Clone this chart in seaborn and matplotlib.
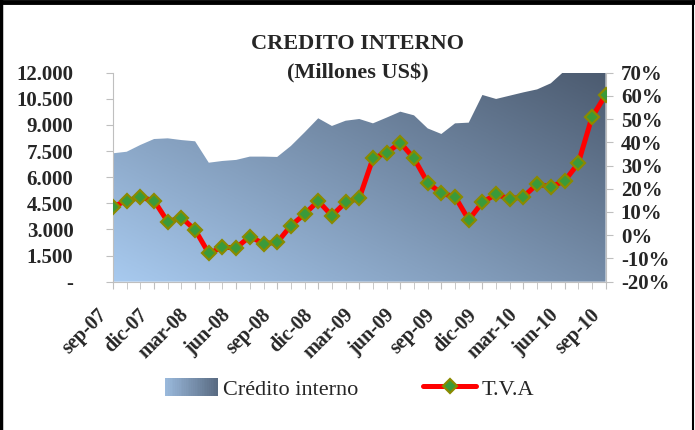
import numpy as np
import pandas as pd
import matplotlib
matplotlib.use("Agg")
import matplotlib.pyplot as plt
import seaborn as sns
from matplotlib.colors import LinearSegmentedColormap
from matplotlib.patches import PathPatch, Rectangle
from matplotlib.lines import Line2D
from matplotlib.legend_handler import HandlerBase
from matplotlib.transforms import ScaledTranslation

# datos (lectura aproximada del grafico)
meses = ["sep-07", "oct-07", "nov-07", "dic-07", "ene-08", "feb-08", "mar-08",
         "abr-08", "may-08", "jun-08", "jul-08", "ago-08", "sep-08", "oct-08",
         "nov-08", "dic-08", "ene-09", "feb-09", "mar-09", "abr-09", "may-09",
         "jun-09", "jul-09", "ago-09", "sep-09", "oct-09", "nov-09", "dic-09",
         "ene-10", "feb-10", "mar-10", "abr-10", "may-10", "jun-10", "jul-10",
         "ago-10", "sep-10"]
credito = [7370, 7460, 7850, 8190, 8230, 8130, 8060, 6830, 6930, 6990,
           7180, 7180, 7160, 7790, 8570, 9380, 8940, 9240, 9340, 9090,
           9420, 9760, 9550, 8800, 8480, 9090, 9130, 10720, 10490, 10680,
           10870, 11040, 11390, 12100, 12500, 12800, 13000]
tva = [12.3, 14.9, 16.3, 14.9, 5.8, 7.6, 2.3, -7.8, -5.2, -5.4,
       -0.6, -3.6, -3.1, 4.1, 9.1, 14.7, 8.4, 14.2, 15.9, 33.1,
       35.5, 39.8, 33.1, 22.6, 18.0, 16.6, 6.6, 14.2, 17.6, 15.6,
       16.6, 22.0, 20.9, 23.3, 30.9, 50.7, 60.4]
tick_meses = meses[::3]

df = pd.DataFrame({"mes": meses, "credito": credito, "tva": tva})
df["i"] = np.arange(len(df))

sns.set_style("white")
plt.rcParams["font.family"] = ["Liberation Serif", "DejaVu Serif"]

fig = plt.figure(figsize=(6.95, 4.30), dpi=100)
ax = fig.add_axes([0.1626, 0.345, 0.7087, 0.486])
ax2 = ax.twinx()

col_claro = "#a8caef"
col_oscuro = "#4c5b70"
cmap = LinearSegmentedColormap.from_list("cred", [col_claro, col_oscuro])

# area con degradado
poly = ax.fill_between(df["i"], df["credito"], color="none", lw=0)
path = poly.get_paths()[0]
clip = PathPatch(path, transform=ax.transData, facecolor="none", edgecolor="none")
ax.add_patch(clip)
xx, yy = np.meshgrid(np.linspace(0, 1, 300), np.linspace(0, 1, 300))
grad = 0.55 * xx + 0.45 * yy
im = ax.imshow(grad, extent=[0, 36, 0, 12000], origin="lower", aspect="auto",
               cmap=cmap, vmin=0, vmax=1, zorder=1)
im.set_clip_path(clip)

ax.set_xlim(0, 36)
ax.set_ylim(0, 12000)
ax.set_yticks(np.arange(0, 12001, 1500))
ax.set_yticklabels(["-" if v == 0 else f"{v:,}".replace(",", ".") for v in range(0, 12001, 1500)])
ax.set_xticks(np.arange(0, 37, 3))
ax.set_xticks(np.arange(0, 37, 1), minor=True)
ax.set_xticklabels(tick_meses, rotation=45, ha="right", va="center",
                   rotation_mode="anchor")

# linea T.V.A
sns.lineplot(data=df, x="i", y="tva", ax=ax2, color="red", lw=3.6, marker="D",
             markersize=7, markerfacecolor="#3a9a3a", markeredgecolor="#8a8a00",
             markeredgewidth=1.6, legend=False, zorder=5)
ax2.set_ylim(-20, 70)
ax2.set_yticks(np.arange(-20, 71, 10))
ax2.set_yticklabels([f"{v}%" for v in range(-20, 71, 10)])
ax2.set_xlim(0, 36)
ax2.set_xlabel("")
ax2.set_ylabel("")
ax.set_xlabel("")
ax.set_ylabel("")

gris = "#bfbfbf"
for a in (ax, ax2):
    for s in a.spines.values():
        s.set_visible(False)
ax.spines["left"].set_visible(True)
ax.spines["left"].set_color(gris)
ax.spines["bottom"].set_visible(True)
ax.spines["bottom"].set_color(gris)
ax2.spines["right"].set_visible(True)
ax2.spines["right"].set_color(gris)

fs = 15
ax.tick_params(axis="y", which="major", direction="out", length=5, color=gris,
               labelsize=fs, pad=23.5, left=True)
ax.tick_params(axis="x", which="both", direction="out", length=5, color=gris,
               labelsize=14.5, pad=17, bottom=True)
ax2.tick_params(axis="y", direction="out", length=5, color=gris, labelsize=fs,
                pad=6, right=True)
desplaza = ScaledTranslation(-9 / 100, 0, fig.dpi_scale_trans)
for lab in ax.get_xticklabels():
    lab.set_transform(lab.get_transform() + desplaza)
for lab in ax.get_yticklabels() + ax.get_xticklabels() + ax2.get_yticklabels():
    lab.set_fontweight("bold")

fig.text(0.515, 0.897, "CREDITO INTERNO", ha="center", va="center",
         fontsize=16, fontweight="bold")
fig.text(0.515, 0.829, "(Millones US$)", ha="center", va="center",
         fontsize=16, fontweight="bold")


class GradHandler(HandlerBase):
    def create_artists(self, legend, orig_handle, xdescent, ydescent, width,
                       height, fontsize, trans):
        n = 30
        arts = []
        for k in range(n):
            r = Rectangle((-xdescent + width * k / n, -ydescent), width / n + 0.3,
                          height, facecolor=cmap(0.15 + 0.7 * k / (n - 1)),
                          edgecolor="none", transform=trans)
            arts.append(r)
        return arts


h_area = Rectangle((0, 0), 1, 1)
h_line = Line2D([], [], color="red", lw=3.6, marker="D", markersize=7,
                markerfacecolor="#3a9a3a", markeredgecolor="#8a8a00",
                markeredgewidth=1.6)
fig.legend([h_area, h_line], ["Crédito interno", "T.V.A"],
           handler_map={Rectangle: GradHandler()},
           loc="center", bbox_to_anchor=(0.503, 0.096), ncol=2, frameon=False,
           fontsize=16, handlelength=2.4, handleheight=0.9, handletextpad=0.25,
           columnspacing=2.9)

# borde del cuadro
fig.add_artist(Line2D([0, 1], [0.995, 0.995], color="black", lw=3.5,
                      transform=fig.transFigure))
fig.add_artist(Line2D([0.002, 0.002], [0, 1], color="black", lw=2.5,
                      transform=fig.transFigure))
fig.add_artist(Line2D([0.9975, 0.9975], [0, 1], color="black", lw=1.5,
                      transform=fig.transFigure))

fig.savefig("out.png", dpi=100)
